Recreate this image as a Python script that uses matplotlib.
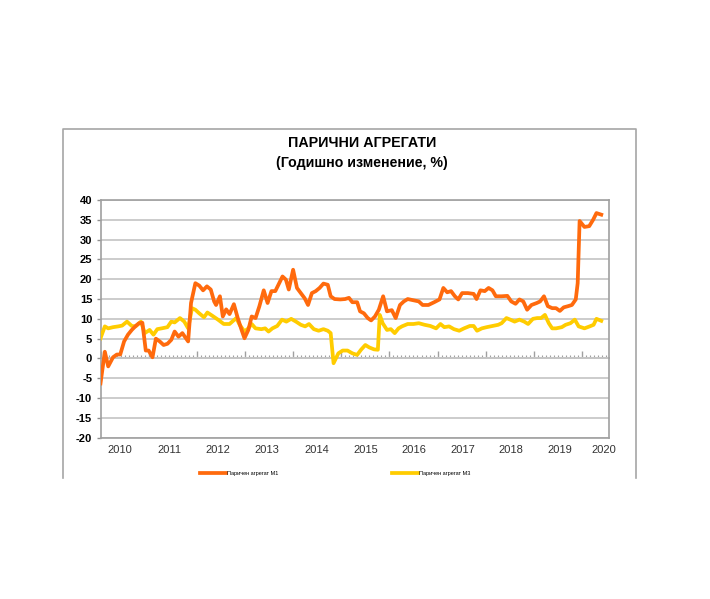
import matplotlib
matplotlib.use("Agg")
import matplotlib.pyplot as plt
from matplotlib.lines import Line2D
from matplotlib.ticker import MultipleLocator, FixedLocator, NullFormatter

plt.rcParams['font.family'] = ['Liberation Sans', 'DejaVu Sans']
plt.rcParams['axes.unicode_minus'] = False

title = "ПАРИЧНИ АГРЕГАТИ"
subtitle = "(Годишно изменение, %)"
label_m1 = "Паричен агрегат М1"
label_m3 = "Паричен агрегат М3"
year_labels = ["2010", "2011", "2012", "2013", "2014", "2015",
               "2016", "2017", "2018", "2019", "2020"]
year_label_pos = [2010.41, 2011.43, 2012.44, 2013.46, 2014.49, 2015.50,
                  2016.51, 2017.53, 2018.53, 2019.54, 2020.46]

m1_t = [2010.00, 2010.09, 2010.16, 2010.26, 2010.34, 2010.41, 2010.49, 2010.57,
        2010.65, 2010.73, 2010.80, 2010.87, 2010.94, 2011.00, 2011.08, 2011.15,
        2011.23, 2011.31, 2011.39, 2011.47, 2011.54, 2011.62, 2011.70, 2011.78,
        2011.82, 2011.88, 2011.97, 2012.05, 2012.13, 2012.21, 2012.29, 2012.36,
        2012.40, 2012.48, 2012.54, 2012.61, 2012.68, 2012.77, 2012.85, 2012.93,
        2012.99, 2013.07, 2013.14, 2013.22, 2013.30, 2013.39, 2013.47, 2013.55,
        2013.63, 2013.71, 2013.78, 2013.85, 2013.91, 2014.00, 2014.08, 2014.16,
        2014.24, 2014.31, 2014.39, 2014.47, 2014.55, 2014.63, 2014.72, 2014.78,
        2014.86, 2014.98, 2015.08, 2015.16, 2015.23, 2015.33, 2015.39, 2015.47,
        2015.55, 2015.62, 2015.70, 2015.78, 2015.87, 2015.95, 2016.05, 2016.13,
        2016.22, 2016.30, 2016.38, 2016.50, 2016.61, 2016.69, 2016.81, 2016.93,
        2017.04, 2017.12, 2017.20, 2017.28, 2017.36, 2017.43, 2017.51, 2017.63,
        2017.75, 2017.81, 2017.89, 2017.98, 2018.06, 2018.14, 2018.21, 2018.33,
        2018.45, 2018.53, 2018.62, 2018.70, 2018.78, 2018.86, 2018.95, 2019.06,
        2019.13, 2019.21, 2019.29, 2019.38, 2019.46, 2019.54, 2019.62, 2019.71,
        2019.79, 2019.87, 2019.91, 2019.95, 2020.05, 2020.15, 2020.23, 2020.30,
        2020.40]
m1_v = [-6.3, 1.7, -2.0, 0.3, 1.0, 1.0, 4.3, 6.0,
        7.2, 8.2, 8.9, 9.0, 2.0, 2.0, 0.3, 5.0,
        4.3, 3.4, 3.7, 4.7, 6.8, 5.5, 6.4, 5.0,
        4.3, 14.0, 19.0, 18.4, 17.2, 18.2, 17.4, 14.4,
        13.5, 15.7, 10.6, 12.4, 11.2, 13.7, 10.2, 7.2,
        5.1, 7.2, 10.6, 10.2, 13.2, 17.2, 14.0, 17.0,
        17.0, 19.0, 20.7, 19.9, 17.4, 22.4, 17.8, 16.5,
        15.2, 13.5, 16.5, 17.0, 17.8, 18.9, 18.6, 15.7,
        15.0, 14.9, 15.0, 15.3, 14.2, 14.2, 11.9, 11.4,
        10.2, 9.6, 10.6, 12.3, 15.7, 11.9, 12.2, 10.2,
        13.5, 14.4, 15.0, 14.7, 14.4, 13.5, 13.5, 14.2,
        14.9, 17.8, 16.7, 17.0, 15.7, 14.9, 16.5, 16.5,
        16.3, 15.0, 17.2, 17.0, 17.8, 17.2, 15.7, 15.7,
        15.8, 14.4, 13.8, 14.9, 14.4, 12.3, 13.5, 14.0,
        14.4, 15.7, 13.2, 12.7, 12.7, 12.0, 12.9, 13.2,
        13.5, 14.9, 19.0, 34.7, 33.2, 33.4, 35.0, 36.7,
        36.3]

m3_t = [2010.00, 2010.09, 2010.16, 2010.26, 2010.37, 2010.45, 2010.55, 2010.65,
        2010.73, 2010.84, 2010.92, 2011.02, 2011.10, 2011.18, 2011.27, 2011.39,
        2011.47, 2011.54, 2011.65, 2011.74, 2011.82, 2011.90, 2011.97, 2012.05,
        2012.15, 2012.22, 2012.32, 2012.44, 2012.56, 2012.68, 2012.82, 2012.89,
        2012.99, 2013.07, 2013.14, 2013.22, 2013.34, 2013.42, 2013.49, 2013.57,
        2013.67, 2013.77, 2013.86, 2013.96, 2014.06, 2014.16, 2014.25, 2014.33,
        2014.43, 2014.53, 2014.63, 2014.72, 2014.78, 2014.84, 2014.94, 2015.03,
        2015.13, 2015.23, 2015.33, 2015.41, 2015.50, 2015.58, 2015.68, 2015.76,
        2015.80, 2015.86, 2015.95, 2016.03, 2016.11, 2016.19, 2016.26, 2016.38,
        2016.50, 2016.61, 2016.73, 2016.85, 2016.97, 2017.06, 2017.14, 2017.24,
        2017.34, 2017.45, 2017.55, 2017.67, 2017.75, 2017.82, 2017.92, 2018.02,
        2018.14, 2018.26, 2018.33, 2018.43, 2018.51, 2018.60, 2018.70, 2018.80,
        2018.88, 2018.98, 2019.07, 2019.15, 2019.23, 2019.31, 2019.38, 2019.46,
        2019.58, 2019.66, 2019.76, 2019.85, 2019.93, 2020.05, 2020.16, 2020.24,
        2020.30, 2020.40]
m3_v = [5.1, 8.1, 7.6, 7.9, 8.1, 8.3, 9.3, 8.2,
        8.1, 9.3, 6.4, 7.2, 6.0, 7.4, 7.6, 7.9,
        9.3, 9.1, 10.2, 9.3, 7.6, 12.7, 12.3, 11.4,
        10.4, 11.6, 10.8, 9.8, 8.7, 8.7, 10.2, 8.5,
        6.8, 7.6, 8.7, 7.6, 7.4, 7.6, 6.8, 7.6,
        8.2, 9.8, 9.3, 10.0, 9.3, 8.5, 8.1, 8.7,
        7.4, 7.0, 7.4, 7.0, 6.4, -1.2, 1.3, 2.0,
        2.0, 1.3, 0.9, 2.2, 3.4, 2.8, 2.3, 2.2,
        11.0, 8.9, 7.2, 7.4, 6.4, 7.6, 8.1, 8.7,
        8.7, 8.9, 8.5, 8.2, 7.6, 8.7, 7.9, 8.1,
        7.4, 7.0, 7.6, 8.2, 8.2, 7.0, 7.6, 7.9,
        8.2, 8.5, 8.9, 10.2, 9.8, 9.3, 9.8, 9.3,
        8.7, 10.0, 10.2, 10.2, 11.0, 8.9, 7.6, 7.6,
        7.9, 8.5, 8.9, 9.8, 8.1, 7.6, 8.1, 8.5,
        10.0, 9.5]

W, H = 710, 599
fig = plt.figure(figsize=(W / 100, H / 100), dpi=100)
fig.patch.set_facecolor('white')

frame_col = '#a6a6a6'
# outer chart frame (left, top, right)
fig.add_artist(Line2D([63 / W, 63 / W, 636 / W, 636 / W],
                      [1 - 478 / H, 1 - 129 / H, 1 - 129 / H, 1 - 478 / H],
                      transform=fig.transFigure, color=frame_col, lw=1.2))

ax = fig.add_axes([100.5 / W, 1 - 437.7 / H, 508 / W, 237.7 / H])
ax.set_xlim(2010.0, 2020.55)
ax.set_ylim(-20, 40)

ax.yaxis.set_major_locator(MultipleLocator(5))
ax.grid(axis='y', color='#c8c8c8', lw=1.3)
ax.set_axisbelow(True)
for s in ax.spines.values():
    s.set_color('#a0a0a0')
    s.set_linewidth(1.2)

ax.tick_params(axis='y', direction='out', length=3, width=1, color='#909090',
               pad=3, labelsize=8)
for lab in ax.get_yticklabels():
    lab.set_fontweight('bold')

ax.xaxis.set_major_locator(FixedLocator(year_label_pos))
ax.set_xticklabels(year_labels, fontsize=8, color='#333333')
ax.tick_params(axis='x', length=0, pad=5)

# zero axis line with monthly / yearly ticks
zero_frac = 20 / 60
sec = ax.secondary_xaxis(zero_frac)
sec.spines['bottom'].set_color('#a0a0a0')
sec.spines['bottom'].set_linewidth(1.2)
sec.xaxis.set_major_locator(MultipleLocator(1))
sec.xaxis.set_minor_locator(MultipleLocator(1 / 12))
sec.xaxis.set_major_formatter(NullFormatter())
sec.tick_params(which='major', direction='in', length=5, width=1, color='#a0a0a0')
sec.tick_params(which='minor', direction='in', length=2.5, width=0.8, color='#a0a0a0')

l1, = ax.plot(m1_t, m1_v, color='#FF6A0D', lw=2.7, solid_joinstyle='round',
              label=label_m1, zorder=4)
l3, = ax.plot(m3_t, m3_v, color='#FFCC00', lw=2.7, solid_joinstyle='round',
              label=label_m3, zorder=3)

fig.text(362 / W, 1 - 143 / H, title, ha='center', va='center',
         fontsize=10.3, fontweight='bold')
fig.text(362 / W, 1 - 163 / H, subtitle, ha='center', va='center',
         fontsize=10.2, fontweight='bold')

fig.legend(handles=[l1, l3], ncol=2, loc='center left',
           bbox_to_anchor=(200 / W, 1 - 473 / H), frameon=False,
           fontsize=4, handlelength=4.7, handletextpad=0.1,
           columnspacing=20.5, borderpad=0, borderaxespad=0)

fig.savefig('out.png', dpi=100, facecolor='white')
